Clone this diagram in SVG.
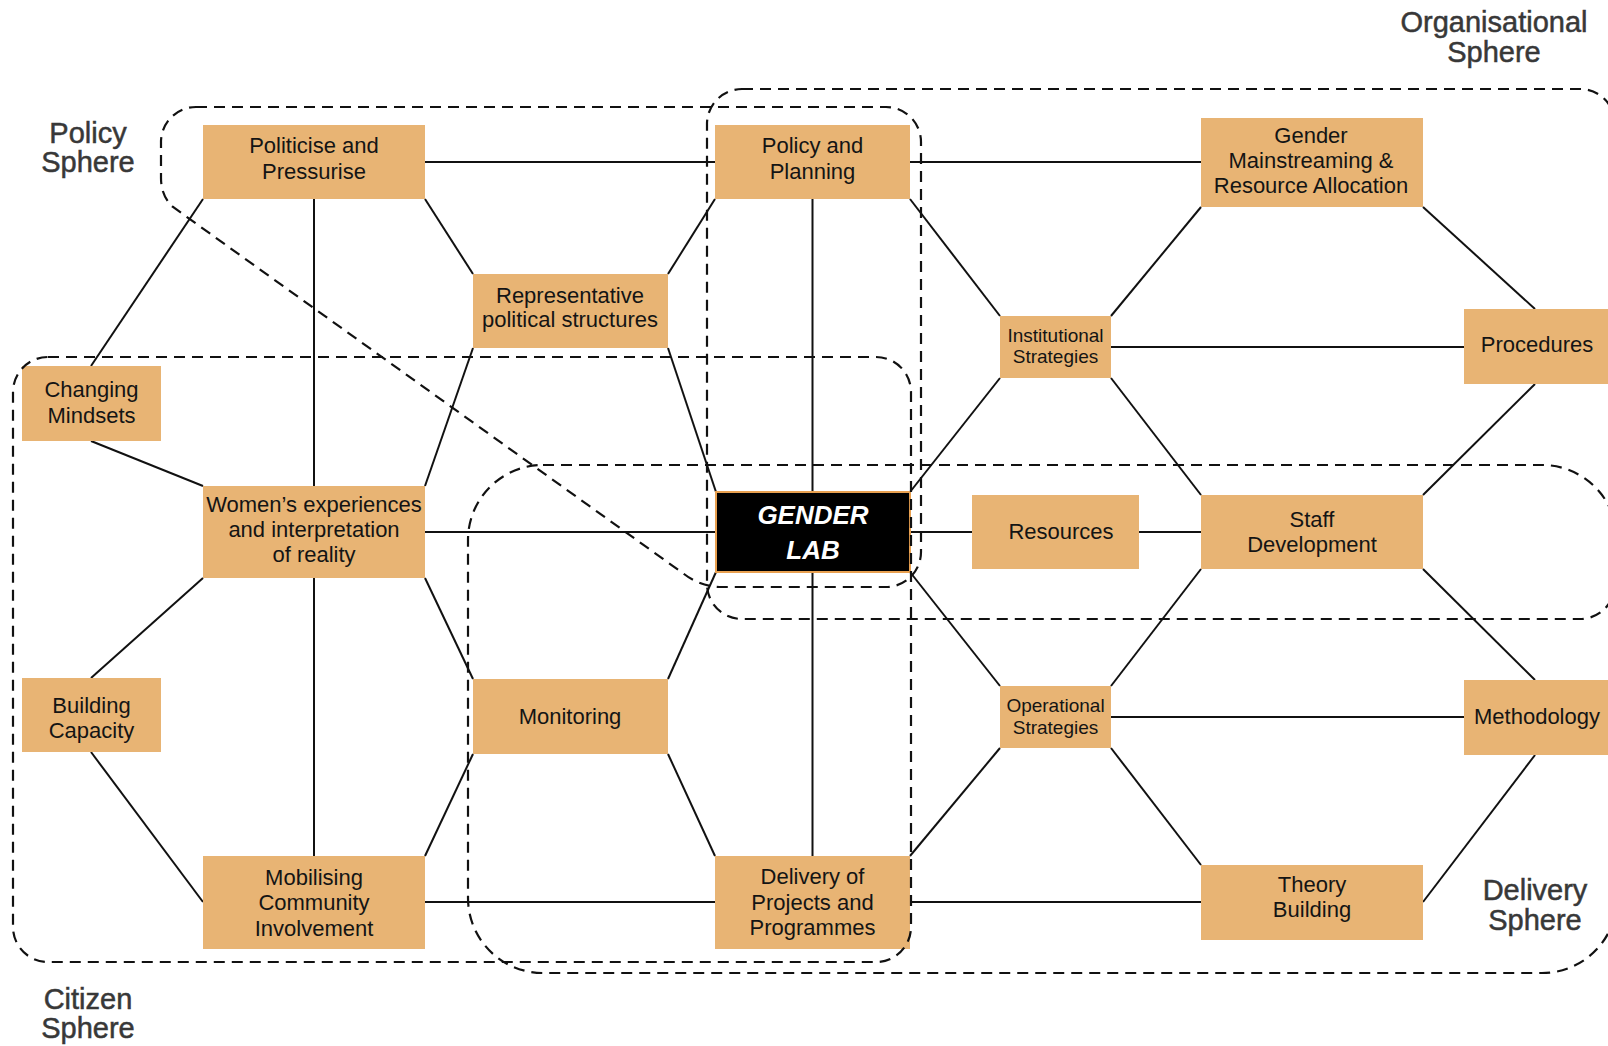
<svg xmlns="http://www.w3.org/2000/svg" width="1608" height="1046" viewBox="0 0 1608 1046">
<style>
.bg{fill:#ffffff}
.box{fill:#E8B474}
.lab{fill:#000000;stroke:#E8A050;stroke-width:2}
.t{font-family:"Liberation Sans",Arial,sans-serif;font-size:22px;fill:#141414;text-anchor:middle}
.ts{font-family:"Liberation Sans",Arial,sans-serif;font-size:19px;fill:#141414;text-anchor:middle}
.tl{font-family:"Liberation Sans",Arial,sans-serif;font-size:26px;font-weight:bold;font-style:italic;fill:#ffffff;text-anchor:middle}
.sp{font-family:"Liberation Sans",Arial,sans-serif;font-size:29px;fill:#383838;stroke:#383838;stroke-width:0.5;text-anchor:middle}
.c{stroke:#111111;stroke-width:2;fill:none}
.d{stroke:#111111;stroke-width:2.2;fill:none;stroke-dasharray:11 7}
</style>
<rect class="bg" x="0" y="0" width="1608" height="1046"/>
<g id="connectors">
<path class="c" d="M425,162 H715"/>
<path class="c" d="M910,162 H1201"/>
<path class="c" d="M203,199 L91,366"/>
<path class="c" d="M314,199 V486"/>
<path class="c" d="M425,199 L473,274"/>
<path class="c" d="M668,274 L715,199"/>
<path class="c" d="M812.5,199 V492"/>
<path class="c" d="M910,199 L1000,316"/>
<path class="c" d="M1201,207 L1111,316"/>
<path class="c" d="M1423,207 L1535,309"/>
<path class="c" d="M1111,347 H1464"/>
<path class="c" d="M473,348 L425,486"/>
<path class="c" d="M668,348 L716,492"/>
<path class="c" d="M91,441 L203,486"/>
<path class="c" d="M425,532 H716"/>
<path class="c" d="M910,532 H972"/>
<path class="c" d="M1139,532 H1201"/>
<path class="c" d="M1000,378 L910,492"/>
<path class="c" d="M1111,378 L1201,495"/>
<path class="c" d="M1535,384 L1423,495"/>
<path class="c" d="M203,578 L91,678"/>
<path class="c" d="M314,578 V856"/>
<path class="c" d="M425,578 L473,679"/>
<path class="c" d="M716,572 L668,679"/>
<path class="c" d="M812.5,572 V856"/>
<path class="c" d="M910,572 L1000,686"/>
<path class="c" d="M1201,569 L1111,686"/>
<path class="c" d="M1423,569 L1535,680"/>
<path class="c" d="M1111,717 H1464"/>
<path class="c" d="M91,752 L203,902"/>
<path class="c" d="M473,754 L425,856"/>
<path class="c" d="M668,754 L715,856"/>
<path class="c" d="M425,902 H715"/>
<path class="c" d="M910,902 H1201"/>
<path class="c" d="M1000,748 L910,856"/>
<path class="c" d="M1111,748 L1201,865"/>
<path class="c" d="M1535,755 L1423,902"/>
</g>
<g id="node-politicise">
<rect class="box" x="203" y="125" width="222" height="74"/>
<text class="t" x="314" y="153">Politicise and</text>
<text class="t" x="314" y="179">Pressurise</text>
</g>
<g id="node-policy-planning">
<rect class="box" x="715" y="125" width="195" height="74"/>
<text class="t" x="812.5" y="153">Policy and</text>
<text class="t" x="812.5" y="179">Planning</text>
</g>
<g id="node-gender-mainstreaming">
<rect class="box" x="1201" y="118" width="222" height="89"/>
<text class="t" x="1311" y="143">Gender</text>
<text class="t" x="1311" y="168">Mainstreaming &amp;</text>
<text class="t" x="1311" y="193">Resource Allocation</text>
</g>
<g id="node-representative">
<rect class="box" x="473" y="274" width="195" height="74"/>
<text class="t" x="570" y="303">Representative</text>
<text class="t" x="570" y="327">political structures</text>
</g>
<g id="node-institutional">
<rect class="box" x="1000" y="316" width="111" height="62"/>
<text class="ts" x="1055.5" y="341.5">Institutional</text>
<text class="ts" x="1055.5" y="363">Strategies</text>
</g>
<g id="node-procedures">
<rect class="box" x="1464" y="309" width="144" height="75"/>
<text class="t" x="1537" y="352">Procedures</text>
</g>
<g id="node-changing-mindsets">
<rect class="box" x="22" y="366" width="139" height="75"/>
<text class="t" x="91.5" y="397">Changing</text>
<text class="t" x="91.5" y="423">Mindsets</text>
</g>
<g id="node-womens-experiences">
<rect class="box" x="203" y="486" width="222" height="92"/>
<text class="t" x="314" y="511.5">Women’s experiences</text>
<text class="t" x="314" y="536.5">and interpretation</text>
<text class="t" x="314" y="562">of reality</text>
</g>
<g id="node-gender-lab">
<rect class="lab" x="716" y="492" width="194" height="80"/>
<text class="tl" x="813" y="524">GENDER</text>
<text class="tl" x="813" y="559">LAB</text>
</g>
<g id="node-resources">
<rect class="box" x="972" y="495" width="167" height="74"/>
<text class="t" x="1061" y="539">Resources</text>
</g>
<g id="node-staff-development">
<rect class="box" x="1201" y="495" width="222" height="74"/>
<text class="t" x="1312" y="526.5">Staff</text>
<text class="t" x="1312" y="552">Development</text>
</g>
<g id="node-building-capacity">
<rect class="box" x="22" y="678" width="139" height="74"/>
<text class="t" x="91.5" y="712.5">Building</text>
<text class="t" x="91.5" y="737.5">Capacity</text>
</g>
<g id="node-monitoring">
<rect class="box" x="473" y="679" width="195" height="75"/>
<text class="t" x="570" y="724">Monitoring</text>
</g>
<g id="node-operational">
<rect class="box" x="1000" y="686" width="111" height="62"/>
<text class="ts" x="1055.5" y="712">Operational</text>
<text class="ts" x="1055.5" y="733.5">Strategies</text>
</g>
<g id="node-methodology">
<rect class="box" x="1464" y="680" width="144" height="75"/>
<text class="t" x="1537" y="724">Methodology</text>
</g>
<g id="node-mobilising">
<rect class="box" x="203" y="856" width="222" height="93"/>
<text class="t" x="314" y="884.5">Mobilising</text>
<text class="t" x="314" y="910">Community</text>
<text class="t" x="314" y="935.5">Involvement</text>
</g>
<g id="node-delivery-projects">
<rect class="box" x="715" y="856" width="195" height="93"/>
<text class="t" x="812.5" y="884">Delivery of</text>
<text class="t" x="812.5" y="910">Projects and</text>
<text class="t" x="812.5" y="935">Programmes</text>
</g>
<g id="node-theory-building">
<rect class="box" x="1201" y="865" width="222" height="75"/>
<text class="t" x="1312" y="891.5">Theory</text>
<text class="t" x="1312" y="916.5">Building</text>
</g>
<g id="spheres">
<rect class="d" x="13" y="357" width="898" height="605" rx="35" ry="35"/>
<rect class="d" x="707" y="89" width="908" height="530" rx="35" ry="35"/>
<rect class="d" x="468" y="465" width="1149" height="508" rx="75" ry="75"/>
<path class="d" d="M196,107 H886 A35,35 0 0 1 921,142 V552 A35,35 0 0 1 886,587 H722 Q701,587 684,574 L173,207 Q161,196 161,178 V142 A35,35 0 0 1 196,107 Z"/>
</g>
<g id="labels">
<text class="sp" x="88" y="143">Policy</text>
<text class="sp" x="88" y="172">Sphere</text>
<text class="sp" x="1494" y="32">Organisational</text>
<text class="sp" x="1494" y="62">Sphere</text>
<text class="sp" x="88" y="1009">Citizen</text>
<text class="sp" x="88" y="1038">Sphere</text>
<text class="sp" x="1535" y="900">Delivery</text>
<text class="sp" x="1535" y="930">Sphere</text>
</g>
</svg>
